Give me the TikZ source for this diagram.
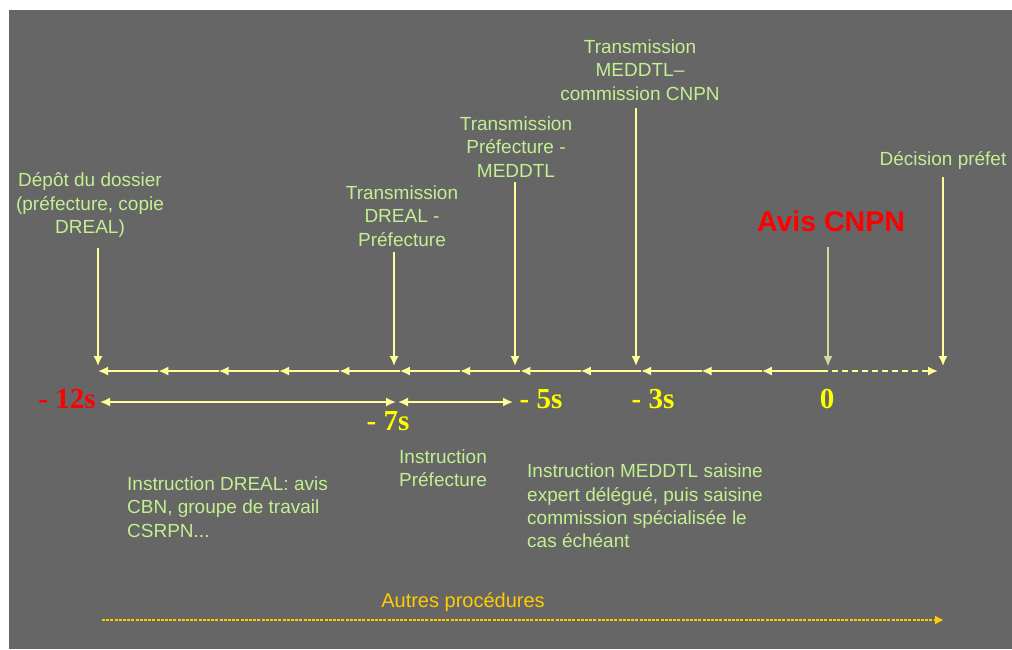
\documentclass[tikz,border=0pt]{standalone}
\usepackage{fontspec}
\setmainfont{Liberation Sans}
\newfontfamily\numfont{Liberation Serif}
\usetikzlibrary{arrows.meta}
\definecolor{bggray}{RGB}{102,102,102}
\definecolor{arrowyel}{RGB}{255,255,153}
\definecolor{lblgreen}{RGB}{195,240,145}
\definecolor{numyel}{RGB}{255,255,0}
\definecolor{numred}{RGB}{255,0,0}
\definecolor{gold}{RGB}{255,204,0}
\definecolor{faint}{RGB}{215,215,160}
\tikzset{
  tl/.style={draw=arrowyel, line width=1.7pt, -{Latex[length=10pt,width=9pt]}},
  dbl/.style={draw=arrowyel, line width=1.7pt, {Latex[length=10pt,width=9pt]}-{Latex[length=10pt,width=9pt]}},
  lbl/.style={text=lblgreen, font=\fontsize{19}{23.3}\selectfont, align=center, inner sep=0pt},
  lbll/.style={lbl, align=left},
  num/.style={font=\fontsize{29}{30}\selectfont\numfont\bfseries, anchor=base, inner sep=0pt},
}
\begin{document}
\begin{tikzpicture}[x=1pt,y=-1pt]
\useasboundingbox (0,0) rectangle (1012,649);
\fill[white] (0,0) rectangle (1012,649);
\fill[bggray] (9,10) rectangle (1012,649);
% ticks
\foreach \i in {0,...,12} {
  \coordinate (t\i) at ({98+60.35*\i},371);
}
\coordinate (tend) at (938,371);
\foreach \i [evaluate=\i as \j using int(\i+1)] in {0,...,11} {
  \draw[tl] (t\j) -- (t\i);
}
\draw[tl, dash pattern=on 6pt off 4pt] (t12) -- (tend);
% top labels
\node[lbl] (depot) at (90,205) {Dépôt du dossier\\(préfecture, copie\\DREAL)};
\node[lbl] (dreal) at (402,216) {Transmission\\DREAL -\\Préfecture};
\node[lbl] (pref) at (516,147) {Transmission\\Préfecture -\\MEDDTL};
\node[lbl] (medd) at (640,70) {Transmission\\MEDDTL–\\commission CNPN};
\node[lbl] (decis) at (943,160) {Décision préfet};
\node[text=numred, font=\fontsize{28.5}{30}\selectfont\bfseries, inner sep=0pt] (avis) at (831,221) {Avis CNPN};
% vertical arrows
\coordinate (v0) at (98,248);
\coordinate (v1) at (394,252);
\coordinate (v2) at (515,182);
\coordinate (v3) at (636,108);
\coordinate (v4) at (828,247);
\coordinate (v5) at (943,177);
\coordinate (b0) at (98,366);
\coordinate (b1) at (394,366);
\coordinate (b2) at (515,366);
\coordinate (b3) at (636,366);
\coordinate (b4) at (828,366);
\coordinate (b5) at (943,366);
\foreach \k in {0,1,2,3,5} { \draw[tl] (v\k) -- (b\k); }
\draw[tl, draw=faint, line width=1.1pt] (v4) -- (b4);
% numbers
\node[num, text=numred] (n12) at (67,408) {- 12s};
\node[num, text=numyel] (n7) at (388,430) {- 7s};
\node[num, text=numyel] (n5) at (541,408) {- 5s};
\node[num, text=numyel] (n3) at (653,408) {- 3s};
\node[num, text=numyel] (n0) at (827,408) {0};
% duration arrows
\coordinate (d0) at (100,402);
\coordinate (d1) at (396,402);
\coordinate (d2) at (398,402);
\coordinate (d3) at (513,402);
\draw[dbl] (d0) -- (d1);
\draw[dbl] (d2) -- (d3);
% bottom labels
\node[lbll, anchor=west] (idreal) at (127,507) {Instruction DREAL: avis\\CBN, groupe de travail\\CSRPN...};
\node[lbl] (ipref) at (443,468) {Instruction\\Préfecture};
\node[lbll, anchor=west] (imedd) at (527,506) {Instruction MEDDTL saisine\\expert délégué, puis saisine\\commission spécialisée le\\cas échéant};
% autres procedures
\node[text=gold, font=\fontsize{20}{22}\selectfont, inner sep=0pt] (autres) at (463,602) {Autres procédures};
\coordinate (a0) at (102,620);
\coordinate (a1) at (943,620);
\draw[draw=gold, line width=1.3pt, dash pattern=on 3pt off 1.2pt, -{Triangle[length=8pt,width=8pt]}] (a0) -- (a1);
\end{tikzpicture}
\end{document}
